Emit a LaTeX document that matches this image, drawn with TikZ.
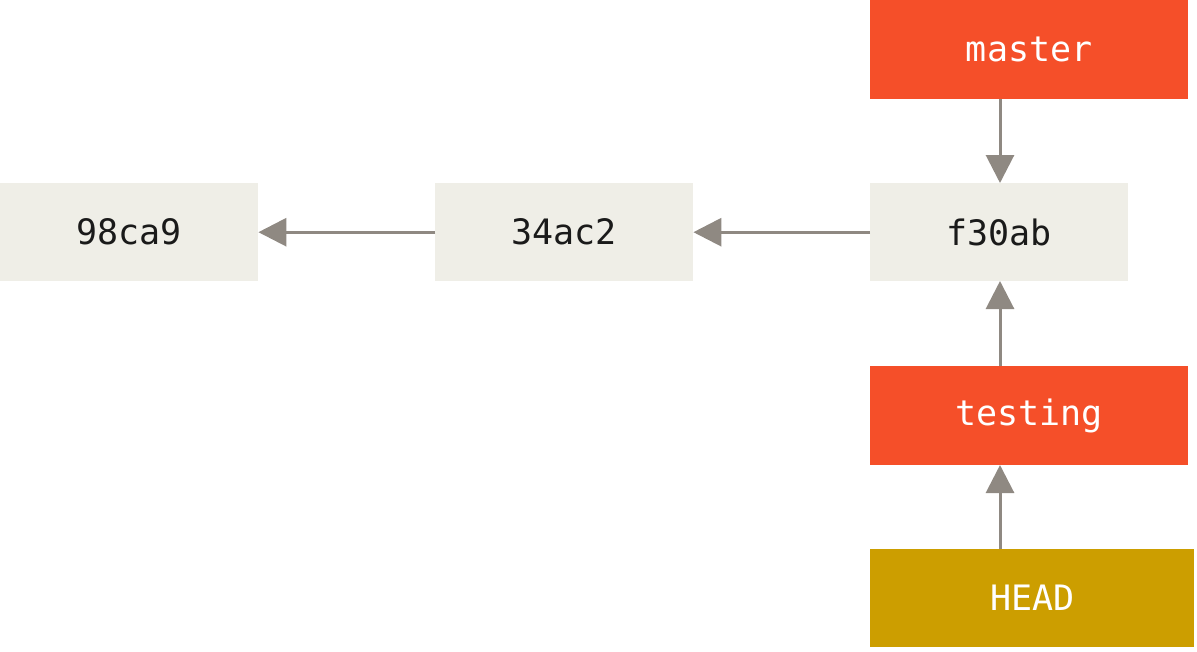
\documentclass[tikz,border=0pt]{standalone}
\usepackage{fontspec}
\setmonofont{DejaVu Sans Mono}
\usetikzlibrary{arrows.meta}
\definecolor{commitfill}{HTML}{EFEEE7}
\definecolor{branchfill}{HTML}{F54F29}
\definecolor{headfill}{HTML}{CC9E00}
\definecolor{arrowgray}{HTML}{8F8982}
\definecolor{commitText}{HTML}{1A1A1A}
\begin{document}
\begin{tikzpicture}[x=1pt,y=-1pt,
  box/.style={inner sep=0pt, anchor=north west, font=\ttfamily\fontsize{35}{40}\selectfont},
  commit/.style={box, fill=commitfill, text=commitText, minimum width=258pt, minimum height=98pt},
  branch/.style={box, fill=branchfill, text=white, minimum width=318pt, minimum height=99pt},
  headbox/.style={box, fill=headfill, text=white, minimum width=324pt, minimum height=98pt},
  ptr/.style={draw=arrowgray, line width=3pt, -{Triangle[length=28pt,width=28pt]}, arrowgray}
]
\useasboundingbox (0,0) rectangle (1197,651);
\node[commit] (c1) at (0,183) {98ca9};
\node[commit] (c2) at (435,183) {34ac2};
\node[commit] (c3) at (870,183) {f30ab};
\node[branch] (master) at (870,0) {master};
\node[branch] (testing) at (870,366) {testing};
\node[headbox] (head) at (870,549) {HEAD};
\coordinate (mb) at (1000,99);
\coordinate (ct) at (1000,183);
\coordinate (cb) at (1000,281);
\coordinate (tt) at (1000,366);
\coordinate (tb) at (1000,465);
\coordinate (ht) at (1000,549);
\draw[ptr] (mb) -- (ct);
\draw[ptr] (c3.west) -- (c2.east);
\draw[ptr] (c2.west) -- (c1.east);
\draw[ptr] (tt) -- (cb);
\draw[ptr] (ht) -- (tb);
\end{tikzpicture}
\end{document}
